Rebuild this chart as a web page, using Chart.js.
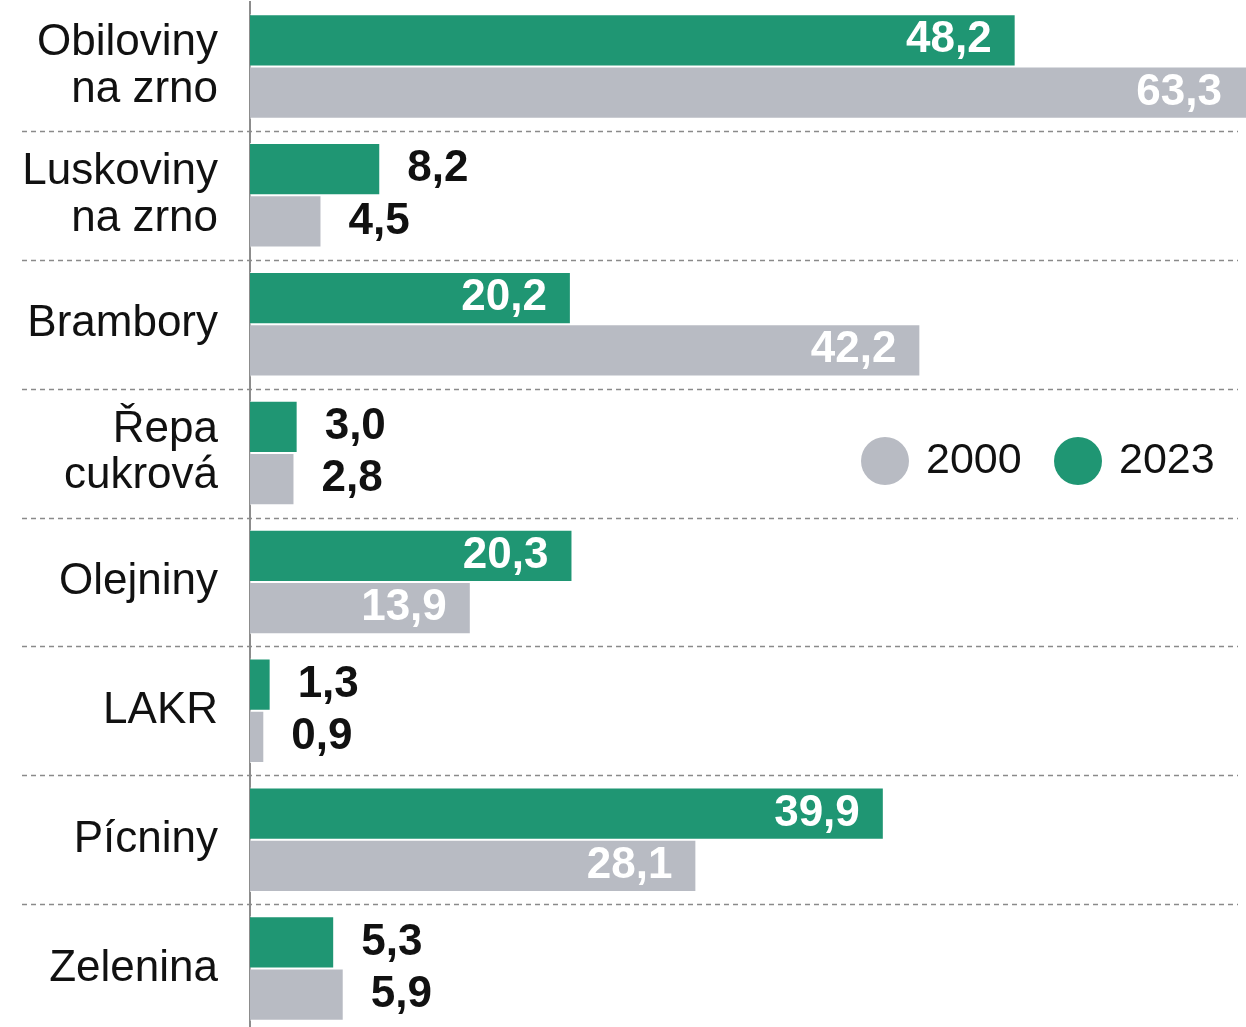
<!DOCTYPE html>
<html>
<head>
<meta charset="utf-8">
<script src="https://cdn.jsdelivr.net/npm/chart.js@4.4.1/dist/chart.umd.min.js"></script>
<style>
html,body{margin:0;padding:0;background:#fff;overflow:hidden}
#wrap{width:1246px;height:1033px;position:relative}
</style>
</head>
<body>
<div id="wrap"><canvas id="crops"></canvas></div>
<script>
// categories and values (tis. ha)
let categories=[["Obiloviny","na zrno"],["Luskoviny","na zrno"],"Brambory",["Řepa","cukrová"],"Olejniny","LAKR","Pícniny","Zelenina"]
let values2023=[48.2,8.2,20.2,3.0,20.3,1.3,39.9,5.3]
let values2000=[63.3,4.5,42.2,2.8,13.9,0.9,28.1,5.9]
let seriesNames=["2023","2000"]
let green="#1f9673"
let gray="#b8bbc3"
let font="'Liberation Sans', Arial, sans-serif"

let separators={
id:"separators",
afterDatasetsDraw(chart){
let ctx=chart.ctx
let y=chart.scales.y
ctx.save()
ctx.strokeStyle="#8a8a8a"
ctx.lineWidth=1.5
ctx.setLineDash([5,4])
for(let i=0;i<categories.length-1;i++){
let py=Math.round((y.getPixelForValue(i)+y.getPixelForValue(i+1))/2)+0.5
ctx.beginPath()
ctx.moveTo(22,py)
ctx.lineTo(1238,py)
ctx.stroke()
}
ctx.restore()
}
}

let valueLabels={
id:"valueLabels",
afterDatasetsDraw(chart){
let ctx=chart.ctx
let right=chart.chartArea.right
ctx.save()
ctx.font="bold 44px "+font
ctx.textBaseline="middle"
chart.data.datasets.forEach((ds,di)=>{
let meta=chart.getDatasetMeta(di)
meta.data.forEach((bar,i)=>{
let v=ds.data[i]
let txt=v.toFixed(1).replace(".",",")
let end=Math.min(bar.x,right)
if(v>10){
ctx.fillStyle="#fff"
ctx.textAlign="right"
ctx.fillText(txt,end-24,bar.y)
}else{
ctx.fillStyle="#111"
ctx.textAlign="left"
ctx.fillText(txt,end+27,bar.y)
}
})
})
ctx.restore()
}
}

let floatLegend={
id:"floatLegend",
afterDraw(chart){
let ctx=chart.ctx
let items=[[seriesNames[1],gray,885],[seriesNames[0],green,1078]]
ctx.save()
ctx.font="43px "+font
ctx.textBaseline="middle"
ctx.textAlign="left"
items.forEach(it=>{
ctx.fillStyle=it[1]
ctx.beginPath()
ctx.arc(it[2],461,24,0,Math.PI*2)
ctx.fill()
ctx.fillStyle="#111"
ctx.fillText(it[0],it[2]+41,461)
})
ctx.restore()
}
}

new Chart(document.getElementById("crops"),{
type:"bar",
data:{
labels:categories,
datasets:[{
label:seriesNames[0],
data:values2023,
backgroundColor:green,
borderColor:"rgba(255,255,255,0.7)",
borderWidth:1,
categoryPercentage:0.81,
barPercentage:1
},{
label:seriesNames[1],
data:values2000,
backgroundColor:gray,
borderColor:"rgba(255,255,255,0.7)",
borderWidth:1,
categoryPercentage:0.81,
barPercentage:1
}]
},
options:{
indexAxis:"y",
responsive:true,
maintainAspectRatio:false,
animation:false,
layout:{padding:{top:2,right:0,bottom:0,left:0}},
plugins:{legend:{display:false},tooltip:{enabled:false}},
scales:{
x:{display:false,min:0,max:62.7},
y:{
afterFit(s){
s.width=250
s.paddingTop=0
s.paddingBottom=0
},
grid:{display:false,drawTicks:false},
border:{display:true,color:"#8c8c8c",width:2},
ticks:{
color:"#111",
padding:32,
font:{family:font,size:44,lineHeight:1.05}
}
}
}
},
plugins:[separators,valueLabels,floatLegend]
})
</script>
</body>
</html>
